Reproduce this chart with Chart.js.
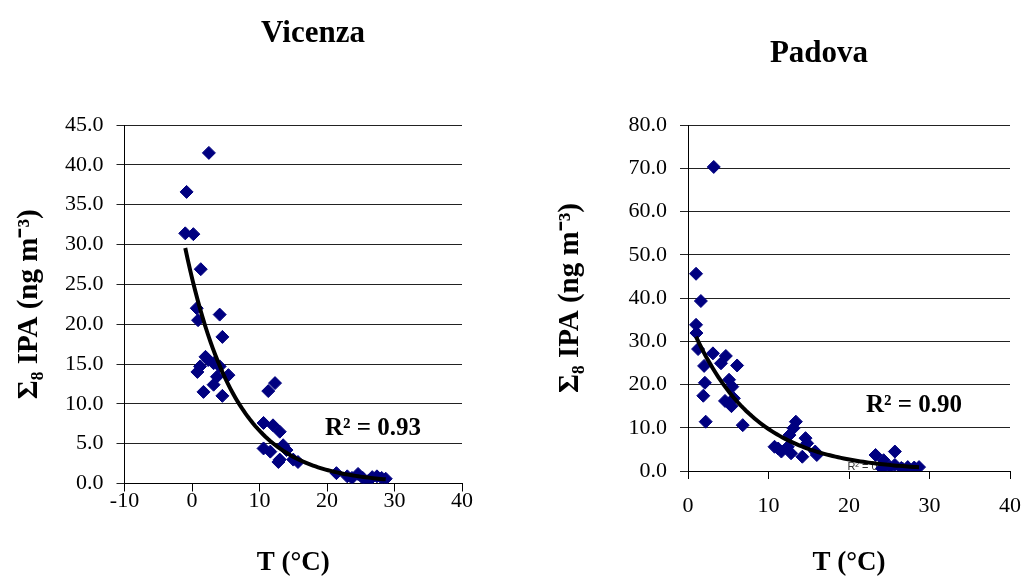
<!DOCTYPE html>
<html><head><meta charset="utf-8">
<script src="https://cdn.jsdelivr.net/npm/chart.js@4"></script>
<style>
html,body{margin:0;padding:0;background:#fff;overflow:hidden;width:1035px;height:583px}
#c1{position:absolute;left:0;top:0}
#c2{position:absolute;left:517px;top:0}
</style></head><body>
<canvas id="c1" width="517" height="583"></canvas>
<canvas id="c2" width="518" height="583"></canvas>
<script>
// ---- Data ----
const vicenzaT   = [2.5,-0.8,-1.0,0.2,1.3,0.7,0.9,4.1,4.5,2.0,2.4,1.2,0.8,3.2,4.1,5.4,3.7,3.2,1.7,4.5,12.3,11.3,10.6,12.0,13.0,10.6,11.6,13.5,14.0,13.0,12.8,15.0,15.7,21.4,23.0,23.7,24.6,25.3,26.1,26.7,27.4,28.1,28.7];
const vicenzaIPA = [41.5,36.6,31.4,31.3,26.9,22.0,20.5,21.2,18.4,15.9,15.5,14.7,14.0,15.1,14.7,13.6,13.4,12.4,11.5,11.0,12.6,11.6,7.6,7.3,6.5,4.4,4.0,4.8,4.2,3.0,2.7,3.0,2.7,1.3,0.9,0.7,1.2,0.7,0.3,0.8,0.9,0.7,0.6];
const padovaT    = [3.2,1.0,1.6,1.0,1.05,1.25,3.1,4.7,4.1,6.1,2.0,5.1,2.1,5.5,5.7,1.9,4.6,5.4,2.2,6.8,10.75,11.2,11.6,12.4,13.4,13.1,12.6,14.6,14.8,12.8,14.2,15.8,16.0,23.3,25.7,24.3,24.1,25.1,25.7,26.5,27.3,28.1,28.7];
const padovaIPA  = [70.3,45.6,39.3,33.8,31.9,28.2,27.2,26.6,24.9,24.4,24.3,21.1,20.4,19.5,16.8,17.4,16.2,15.0,11.4,10.6,5.6,5.2,4.5,5.6,11.4,9.9,8.3,7.6,6.4,4.1,3.3,4.5,3.7,3.7,4.5,2.5,0.6,0.9,1.4,0.7,0.9,0.8,0.9];

const vicenzaXTicks = [-10,0,10,20,30,40];
const vicenzaYTicks = [0,5,10,15,20,25,30,35,40,45];
const padovaXTicks  = [0,10,20,30,40];
const padovaYTicks  = [0,10,20,30,40,50,60,70,80];

const titles   = ['Vicenza','Padova'];
const r2Labels = ['R² = 0.93','R² = 0.90'];
const r2Hidden = 'R² = 0.8976';
const xTitle = 'T (°C)';
const yTitle = 'Σ₈ IPA (ng m⁻³)';

// ---- Exponential trend line (least squares on ln y, as a spreadsheet trendline) ----
function expFit(xs, ys){
  const n = xs.length; let sx=0, sy=0, sxx=0, sxy=0;
  for (let i=0;i<n;i++){ const l=Math.log(ys[i]); sx+=xs[i]; sy+=l; sxx+=xs[i]*xs[i]; sxy+=xs[i]*l; }
  const b = (n*sxy - sx*sy)/(n*sxx - sx*sx);
  const a = Math.exp((sy - b*sx)/n);
  return {a, b};
}
function trendPoints(xs, ys){
  const f = expFit(xs, ys);
  const x0 = Math.min(...xs), x1 = Math.max(...xs), pts = [];
  for (let i=0;i<=80;i++){ const x = x0 + (x1-x0)*i/80; pts.push({x, y: f.a*Math.exp(f.b*x)}); }
  return pts;
}
const toPts = (xs, ys) => xs.map((x,i)=>({x, y: ys[i]}));

Chart.defaults.font.family = "'Liberation Serif', 'Times New Roman', serif";
Chart.defaults.color = '#000';

const textPlugin = {
  id: 'texts',
  beforeDatasetsDraw(chart, args, opts){ drawItems(chart, opts.under || []); },
  afterDatasetsDraw(chart, args, opts){ drawItems(chart, opts.over || []); }
};
function drawItems(chart, items){
  const ctx = chart.ctx;
  items.forEach(it => {
    ctx.save();
    ctx.font = it.font; ctx.fillStyle = it.color || '#000';
    ctx.textAlign = it.align || 'left'; ctx.textBaseline = 'alphabetic';
    let x = it.x, y = it.y;
    if (it.data){ x = chart.scales.x.getPixelForValue(it.x); y = chart.scales.y.getPixelForValue(it.y); }
    ctx.fillText(it.text, x, y);
    ctx.restore();
  });
}

function makeChart(id, c){
  return new Chart(document.getElementById(id), {
    type: 'scatter',
    plugins: [textPlugin],
    data: { datasets: [
      { data: trendPoints(c.xs, c.ys), showLine: true, borderColor: '#000', borderWidth: 4, pointRadius: 0, order: 0, tension: 0 },
      { data: toPts(c.xs, c.ys), pointStyle: 'rectRot', pointRadius: 6.5, backgroundColor: '#000080', borderColor: '#000080', borderWidth: 1, order: 1 }
    ]},
    options: {
      responsive: false, animation: false, devicePixelRatio: 1, events: [],
      layout: { padding: c.padding },
      plugins: {
        legend: { display: false }, tooltip: { enabled: false }, title: { display: false },
        texts: c.texts
      },
      scales: {
        x: {
          type: 'linear', min: c.xTicks[0], max: c.xTicks[c.xTicks.length-1],
          afterBuildTicks: s => { s.ticks = c.xTicks.map(v => ({value: v})); },
          afterFit: s => { s.height = c.xHeight; },
          ticks: { font: { size: 22 }, color: '#000', padding: c.xPad, maxRotation: 0, autoSkip: false },
          grid: { drawOnChartArea: false, drawTicks: true, tickLength: 8, color: '#000' },
          border: { display: true, color: '#000', width: 1 },
          title: { display: true, text: xTitle, font: { size: 27, weight: 'bold' }, color: '#000', padding: { top: 0, bottom: 4 } }
        },
        y: {
          type: 'linear', min: c.yTicks[0], max: c.yTicks[c.yTicks.length-1],
          afterBuildTicks: s => { s.ticks = c.yTicks.map(v => ({value: v})); },
          afterFit: s => { s.width = c.yWidth; },
          ticks: { font: { size: 22 }, color: '#000', padding: 13, autoSkip: false, callback: v => Number(v).toFixed(1) },
          grid: { color: '#222', drawTicks: true, tickLength: 8 },
          border: { display: true, color: '#000', width: 1 },
          title: { display: true, text: yTitle, font: { size: 29, weight: 'bold' }, color: '#000', padding: { top: 0, bottom: 0 } }
        }
      }
    }
  });
}

makeChart('c1', {
  xs: vicenzaT, ys: vicenzaIPA, xTicks: vicenzaXTicks, yTicks: vicenzaYTicks,
  padding: { left: 12, right: 55, top: 125, bottom: 0 }, yWidth: 112.5, xHeight: 99.5, xPad: -3,
  texts: {
    over: [
      { text: titles[0], x: 313, y: 42, font: "bold 31px 'Liberation Serif'", align: 'center' },
      { text: r2Labels[0], data: true, x: 19.7, y: 6.1, font: "bold 25px 'Liberation Serif'" }
    ]
  }
});
makeChart('c2', {
  xs: padovaT, ys: padovaIPA, xTicks: padovaXTicks, yTicks: padovaYTicks,
  padding: { left: 36, right: 17, top: 125, bottom: 0 }, yWidth: 135, xHeight: 112, xPad: 14,
  texts: {
    under: [
      { text: r2Hidden, data: true, x: 19.8, y: 0.2, font: "11px 'Liberation Sans'", color: '#333' }
    ],
    over: [
      { text: titles[1], x: 302, y: 62, font: "bold 31px 'Liberation Serif'", align: 'center' },
      { text: r2Labels[1], data: true, x: 22.1, y: 13.7, font: "bold 25px 'Liberation Serif'" }
    ]
  }
});
</script>
</body></html>
